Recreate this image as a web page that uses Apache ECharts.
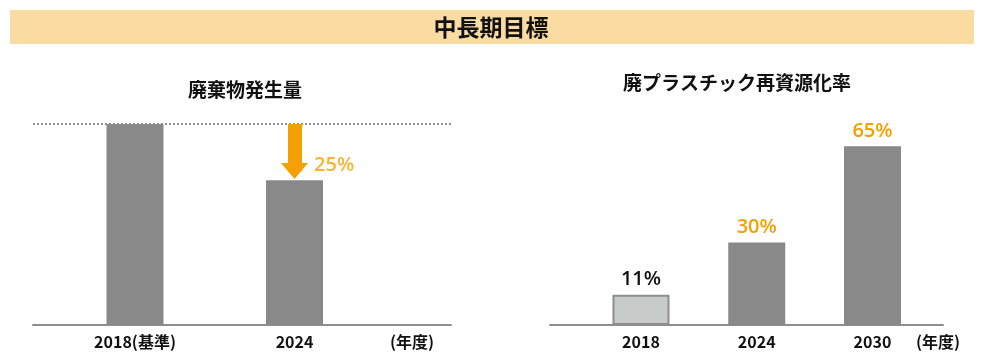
<!DOCTYPE html>
<html><head><meta charset="utf-8">
<script src="https://cdn.jsdelivr.net/npm/echarts@6/dist/echarts.min.js"></script>
<style>html,body{margin:0;padding:0;background:#fff}#c{width:982px;height:356px}</style>
</head><body><div id="c"></div>
<script>
const mainTitle = '中長期目標';
const leftTitle = '廃棄物発生量';
const leftCategories = ['2018(基準)', '2024'];
const leftValues = [100, 72];
const reductionLabel = '25%';
const reductionArrow = [100, 76.6];
const reductionLabelValue = 79.6;
const rightTitle = '廃プラスチック再資源化率';
const rightCategories = ['2018', '2024', '2030'];
const rightValues = [11, 30, 65];
const unitLabel = '(年度)';

const FONT = '"Noto Sans CJK JP", "Noto Sans", sans-serif';
const NUMFONT = '"Open Sans", "Noto Sans", sans-serif';
const GRAY = '#898989';
const AXIS = '#8E8E8E';
const ORANGE = '#F5A000';

const chart = echarts.init(document.getElementById('c'), null, {renderer: 'canvas'});

const leftIdx = leftCategories.map((_, i) => i);
const rightIdx = rightCategories.map((_, i) => i);

const rightStyles = [
  {itemStyle: {color: '#C9CACA', borderColor: AXIS, borderWidth: 2}, label: {color: '#111'}},
  {itemStyle: {color: GRAY}, label: {color: ORANGE}},
  {itemStyle: {color: GRAY}, label: {color: ORANGE}}
];

function xAxisCommon(gridIndex, cats, min, max) {
  return {
    type: 'value', gridIndex, min, max,
    axisLine: {show: true, onZero: false, lineStyle: {color: AXIS, width: 2}},
    axisTick: {show: false},
    splitLine: {show: false},
    axisLabel: {
      customValues: cats.map((_, i) => i),
      formatter: v => cats[Math.round(v)],
      fontFamily: FONT, fontSize: 16, fontWeight: 'bold', color: '#111', margin: 9
    }
  };
}

const option = {
  animation: false,
  backgroundColor: '#fff',
  grid: [
    {left: 33, width: 418, top: 124, height: 201},
    {left: 550, width: 393, top: 50, height: 275}
  ],
  xAxis: [
    xAxisCommon(0, leftCategories, -0.6395, 1.981),
    xAxisCommon(1, rightCategories, -0.786, 2.609)
  ],
  yAxis: [
    {type: 'value', gridIndex: 0, min: 0, max: 100, show: false},
    {type: 'value', gridIndex: 1, min: 0, max: 100, show: false}
  ],
  graphic: [
    {type: 'rect', shape: {x: 10, y: 10, width: 964, height: 34}, style: {fill: '#FADBA2'}, silent: true},
    {type: 'text', x: 491, y: 27, style: {text: mainTitle, font: 'bold 23px ' + FONT, fill: '#111', textAlign: 'center', textVerticalAlign: 'middle'}},
    {type: 'text', x: 245, y: 90, style: {text: leftTitle, font: 'bold 19px ' + FONT, fill: '#111', textAlign: 'center', textVerticalAlign: 'middle'}},
    {type: 'text', x: 737, y: 83, style: {text: rightTitle, font: 'bold 19px ' + FONT, fill: '#111', textAlign: 'center', textVerticalAlign: 'middle'}},
    {type: 'text', x: 412, y: 342, style: {text: unitLabel, font: 'bold 16px ' + FONT, fill: '#111', textAlign: 'center', textVerticalAlign: 'middle'}},
    {type: 'text', x: 938, y: 342, style: {text: unitLabel, font: 'bold 16px ' + FONT, fill: '#111', textAlign: 'center', textVerticalAlign: 'middle'}}
  ],
  series: [
    {
      type: 'bar', xAxisIndex: 0, yAxisIndex: 0, barWidth: 57,
      data: leftIdx.map(i => [i, leftValues[i]]),
      itemStyle: {color: GRAY},
      markLine: {
        silent: true, symbol: ['none', 'none'], label: {show: false},
        data: [
          {yAxis: leftValues[0], lineStyle: {type: 'dotted', color: AXIS, width: 2}},
          [
            {coord: [1, reductionArrow[0]], symbol: 'none', lineStyle: {type: 'solid', color: ORANGE, width: 14}, itemStyle: {color: ORANGE}},
            {coord: [1, reductionArrow[1]], symbol: 'triangle', symbolSize: [27, 16], itemStyle: {color: ORANGE}}
          ]
        ]
      }
    },
    {
      type: 'scatter', xAxisIndex: 0, yAxisIndex: 0, symbolSize: 1,
      data: [[1, reductionLabelValue]],
      itemStyle: {color: 'transparent'},
      label: {show: true, position: 'right', distance: 19, formatter: reductionLabel,
        fontFamily: NUMFONT, fontSize: 20, fontWeight: 600, color: ORANGE}
    },
    {
      type: 'bar', xAxisIndex: 1, yAxisIndex: 1, barWidth: 57,
      data: rightIdx.map(i => Object.assign({value: [i, rightValues[i]]}, {
        itemStyle: rightStyles[i].itemStyle,
        label: Object.assign({}, rightStyles[i].label)
      })),
      label: {show: true, position: 'top', distance: 5, formatter: p => p.value[1] + '%',
        fontFamily: NUMFONT, fontSize: 20, fontWeight: 600}
    }
  ]
};
chart.setOption(option);
</script></body></html>
